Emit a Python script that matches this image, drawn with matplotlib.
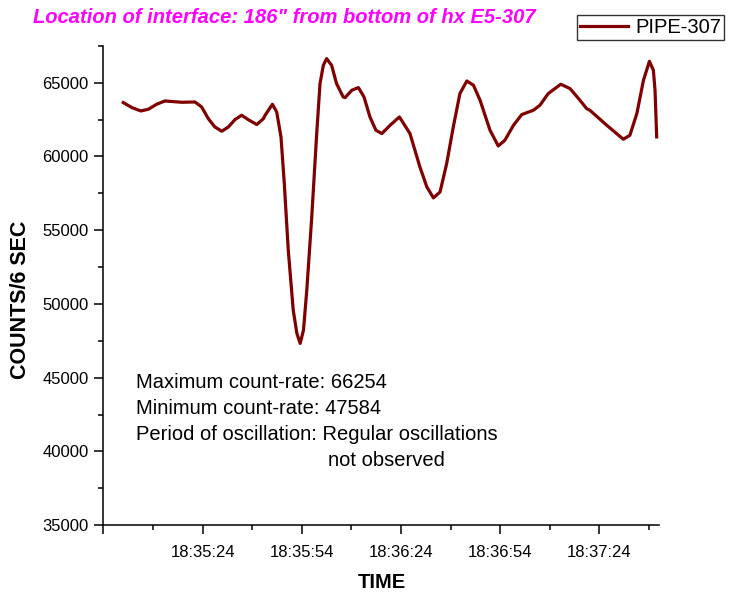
import matplotlib
matplotlib.use("Agg")
import matplotlib.pyplot as plt
import pandas as pd

plt.rcParams['font.family'] = ['Liberation Sans', 'DejaVu Sans']

# readings, seconds after 18:34:54 and counts per 6 s
seconds = [6.0, 8.6, 11.3, 13.6, 16.1, 18.6, 23.7, 27.7, 29.7, 31.7,
           33.7, 35.8, 37.8, 39.8, 41.8, 44.1, 46.4, 48.4, 48.9, 51.1,
           52.4, 53.7, 54.7, 55.9, 57.4, 58.5, 59.5, 60.5, 61.5, 63.0,
           64.5, 65.5, 66.5, 67.5, 69.0, 70.5, 72.5, 73.1, 75.1, 77.1,
           78.8, 80.6, 82.4, 84.2, 86.7, 89.5, 92.7, 95.7, 97.8, 99.8,
           101.8, 103.8, 105.8, 107.8, 109.9, 111.9, 113.9, 116.9, 119.4, 121.4,
           124.0, 126.5, 130.0, 132.0, 134.5, 138.3, 141.1, 144.1, 146.1, 147.1,
           152.2, 157.2, 159.2, 161.3, 163.3, 165.1, 166.3, 166.8, 167.3]
counts = [63652, 63313, 63083, 63198, 63537, 63760, 63672, 63692, 63354, 62568,
          61999, 61707, 61999, 62500, 62791, 62453, 62161, 62568, 62791, 63537,
          63015, 61321, 58164, 53645, 49580, 48001, 47324, 48225, 50935, 55901,
          61551, 64939, 66179, 66633, 66179, 64939, 64031, 63990, 64485, 64668,
          64031, 62676, 61775, 61551, 62114, 62676, 61551, 59289, 57934, 57188,
          57595, 59519, 61999, 64262, 65115, 64824, 63808, 61775, 60711, 61097,
          62114, 62839, 63130, 63469, 64262, 64892, 64600, 63808, 63245, 63130,
          62114, 61165, 61436, 62907, 65163, 66450, 65840, 64485, 61321]

start = pd.Timestamp("2000-01-01 18:34:54")
times = start + pd.to_timedelta(seconds, unit="s")

notes = ["Maximum count-rate: 66254",
         "Minimum count-rate: 47584",
         "Period of oscillation: Regular oscillations"]

W, H = 729, 596
fig = plt.figure(figsize=(W / 100, H / 100), dpi=100)
ax = fig.add_axes([103.4 / W, 1 - 525.2 / H, (659 - 103.4) / W, (525.2 - 45.8) / H])

line, = ax.plot(times, counts, color='#800000', lw=2.3, label='PIPE-307',
                solid_joinstyle='round')

ax.set_xlim(start, start + pd.Timedelta(seconds=168))
ax.set_ylim(35000, 67500)
major = [start + pd.Timedelta(seconds=30 * k) for k in range(6)]
minor = [start + pd.Timedelta(seconds=15 + 30 * k) for k in range(6)]
ax.set_xticks(major)
ax.set_xticks(minor, minor=True)
ax.set_xticklabels([''] + [t.strftime('%H:%M:%S') for t in major[1:]])
ax.set_yticks(range(35000, 65001, 5000))
ax.set_yticks(range(37500, 67501, 5000), minor=True)

for s in ['top', 'right']:
    ax.spines[s].set_visible(False)
for s in ['left', 'bottom']:
    ax.spines[s].set_linewidth(1.1)
ax.tick_params(which='major', length=6.5, width=1.1, labelsize=12, pad=4)
ax.tick_params(which='minor', length=3.5, width=1.1)
ax.tick_params(axis='x', pad=7.5)

fig.text(21 / W, 1 - 300 / H, 'COUNTS/6 SEC', rotation=90, ha='center', va='center',
         fontsize=15.5, fontweight='bold')
fig.text(382 / W, 1 - 582 / H, 'TIME', ha='center', va='center',
         fontsize=14.5, fontweight='bold')

fig.text(33 / W, 1 - 23 / H, 'Location of interface: 186" from bottom of hx E5-307',
         color='#ff00ff', fontsize=14.5, fontweight='bold', fontstyle='italic', va='baseline')

for i, txt in enumerate(notes):
    fig.text(136 / W, 1 - (387.5 + 26 * i) / H, txt, fontsize=14.5, va='baseline')
fig.text(328 / W, 1 - 466 / H, 'not observed', fontsize=14.5, va='baseline')

leg = fig.legend(handles=[line], loc='upper right', bbox_to_anchor=(724 / W, 1 - 15 / H),
                 fontsize=14.5, frameon=True, fancybox=False, edgecolor='black',
                 borderpad=0.15, handlelength=2.4, handletextpad=0.35, borderaxespad=0)
leg.get_frame().set_linewidth(1.0)

fig.savefig('out.png', dpi=100)
